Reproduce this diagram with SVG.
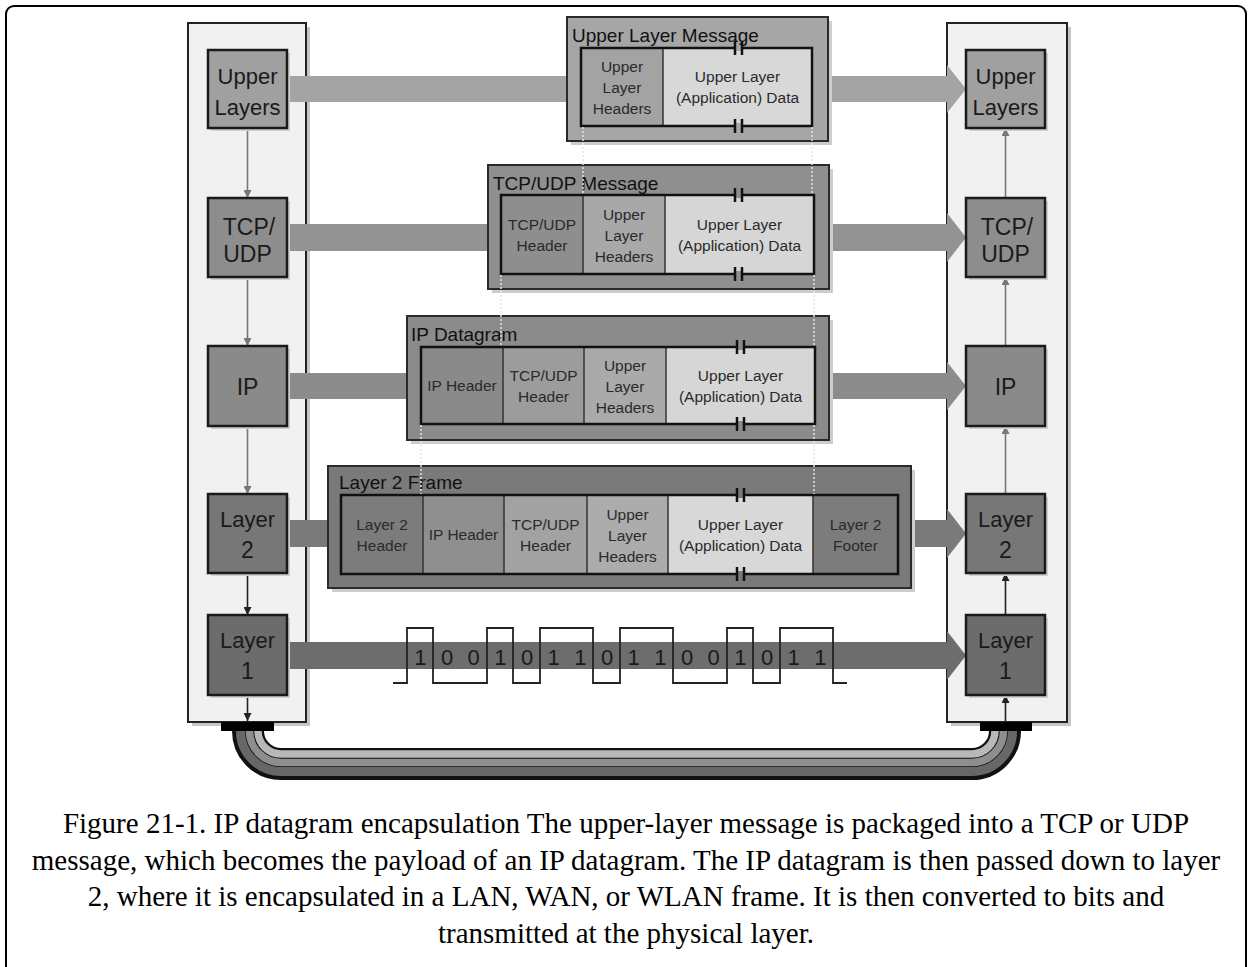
<svg xmlns="http://www.w3.org/2000/svg" width="1251" height="967" viewBox="0 0 1251 967">
<defs>
<style>
.panel{fill:#f1f1f1;stroke:#222;stroke-width:2}
.pshadow{fill:#c6c6c6}
.node{stroke:#1a1a1a;stroke-width:2.5}
.nshadow{fill:#cfcfcf}
.nl{font-family:"Liberation Sans",Arial,sans-serif;font-size:22px;fill:#1a1a1a;text-anchor:middle}
.nl2{font-family:"Liberation Sans",Arial,sans-serif;font-size:23px;fill:#1a1a1a;text-anchor:middle}
.frame{stroke:#2a2a2a;stroke-width:2}
.fshadow{fill:#cdcdcd}
.inner{fill:none;stroke:#111;stroke-width:2.5}
.div{stroke:#333;stroke-width:1.5}
.title{font-family:"Liberation Sans",Arial,sans-serif;font-size:19px;fill:#111}
.ct{font-family:"Liberation Sans",Arial,sans-serif;font-size:15.5px;fill:#2a2a2a;text-anchor:middle}
.brk{stroke:#111;stroke-width:2.5}
.dot{stroke:#e6e6e6;stroke-width:1.5;stroke-dasharray:2 2;fill:none}
.va{stroke:#777;stroke-width:1.6;fill:none}
.vad{stroke:#222;stroke-width:1.6;fill:none}
.bit{font-family:"Liberation Sans",Arial,sans-serif;font-size:22px;fill:#1a1a1a;text-anchor:middle}
.cap{font-family:"Liberation Serif","Times New Roman",serif;font-size:29px;fill:#000;text-anchor:middle}
</style>
<marker id="ag" viewBox="0 0 8 8" refX="8" refY="4" markerWidth="8" markerHeight="8" markerUnits="userSpaceOnUse" orient="auto"><path d="M0,0 L8,4 L0,8 z" fill="#777"/></marker>
<marker id="ad" viewBox="0 0 8 8" refX="8" refY="4" markerWidth="8" markerHeight="8" markerUnits="userSpaceOnUse" orient="auto"><path d="M0,0 L8,4 L0,8 z" fill="#222"/></marker>
</defs>
<rect x="6" y="6" width="1240" height="975" rx="8" fill="#fff" stroke="#000" stroke-width="2"/>

<g id="left-stack-panel">
<rect class="pshadow" x="192" y="27" width="118" height="699"/>
<rect class="panel" x="188" y="23" width="118" height="699"/>
</g>
<g id="right-stack-panel">
<rect class="pshadow" x="951" y="27" width="120" height="699"/>
<rect class="panel" x="947" y="23" width="120" height="699"/>
</g>

<g id="connectors">
<rect x="287" y="76" width="281" height="26" fill="#a4a4a4"/>
<path d="M829 76 H947 V65 L966 89 L947 113 V102 H829 Z" fill="#a4a4a4"/>
<rect x="287" y="224" width="202" height="27" fill="#939393"/>
<path d="M829 224 H947 V213 L966 237.5 L947 262 V251 H829 Z" fill="#939393"/>
<rect x="287" y="373" width="121" height="26" fill="#8c8c8c"/>
<path d="M829 373 H947 V362 L966 386 L947 410 V399 H829 Z" fill="#8c8c8c"/>
<rect x="287" y="520" width="42" height="27" fill="#7a7a7a"/>
<path d="M911 520 H947 V509 L966 533.5 L947 558 V547 H911 Z" fill="#7a7a7a"/>
<path d="M287 642 H947 V631 L966 655.5 L947 680 V669 H287 Z" fill="#6d6d6d"/>
<line class="va" x1="247.5" y1="128" x2="247.5" y2="198" marker-end="url(#ag)"/>
<line class="va" x1="247.5" y1="277" x2="247.5" y2="346" marker-end="url(#ag)"/>
<line class="va" x1="247.5" y1="426" x2="247.5" y2="494" marker-end="url(#ag)"/>
<line class="vad" x1="247.5" y1="573" x2="247.5" y2="615" marker-end="url(#ad)"/>
<line class="vad" x1="247.5" y1="695" x2="247.5" y2="721" marker-end="url(#ad)"/>
<line class="va" x1="1005.5" y1="198" x2="1005.5" y2="128" marker-end="url(#ag)"/>
<line class="va" x1="1005.5" y1="346" x2="1005.5" y2="277" marker-end="url(#ag)"/>
<line class="va" x1="1005.5" y1="494" x2="1005.5" y2="426" marker-end="url(#ag)"/>
<line class="vad" x1="1005.5" y1="615" x2="1005.5" y2="573" marker-end="url(#ad)"/>
<line class="vad" x1="1005.5" y1="722" x2="1005.5" y2="695" marker-end="url(#ad)"/>
<g fill="none">
<path d="M248 728 V731 A33 33 0 0 0 281 764 H972 A33 33 0 0 0 1005 731 V728" stroke="#111" stroke-width="32"/>
<path d="M258 728 V731 A23 23 0 0 0 281 754 H972 A23 23 0 0 0 995 731 V728" stroke="#b8b8b8" stroke-width="7.5"/>
<path d="M249.5 728 V731 A31.5 31.5 0 0 0 281 762.5 H972 A31.5 31.5 0 0 0 1003.5 731 V728" stroke="#8e8e8e" stroke-width="7.5"/>
<path d="M240.5 728 V731 A40.5 40.5 0 0 0 281 771.5 H972 A40.5 40.5 0 0 0 1012.5 731 V728" stroke="#676767" stroke-width="9"/>
</g>
<rect x="221" y="722" width="53" height="9" fill="#000"/>
<rect x="980" y="722" width="52" height="9" fill="#000"/>
</g>

<g id="node-upper-left">
<rect class="nshadow" x="211" y="53" width="79" height="78"/>
<rect class="node" x="208" y="50" width="79" height="78" fill="#a0a0a0"/>
<text class="nl" x="247.5" y="84">Upper</text>
<text class="nl" x="247.5" y="115">Layers</text>
</g>
<g id="node-tcp-left">
<rect class="nshadow" x="211" y="201" width="79" height="79"/>
<rect class="node" x="208" y="198" width="79" height="79" fill="#8d8d8d"/>
<text class="nl2" x="249" y="235">TCP/</text>
<text class="nl2" x="247.5" y="262">UDP</text>
</g>
<g id="node-ip-left">
<rect class="nshadow" x="211" y="349" width="79" height="80"/>
<rect class="node" x="208" y="346" width="79" height="80" fill="#8a8a8a"/>
<text class="nl2" x="247.5" y="395">IP</text>
</g>
<g id="node-l2-left">
<rect class="nshadow" x="211" y="497" width="79" height="79"/>
<rect class="node" x="208" y="494" width="79" height="79" fill="#777"/>
<text class="nl" x="247.5" y="527">Layer</text>
<text class="nl2" x="247.5" y="558">2</text>
</g>
<g id="node-l1-left">
<rect class="nshadow" x="211" y="618" width="79" height="80"/>
<rect class="node" x="208" y="615" width="79" height="80" fill="#6c6c6c"/>
<text class="nl" x="247.5" y="648">Layer</text>
<text class="nl2" x="247.5" y="679">1</text>
</g>

<g id="node-upper-right">
<rect class="nshadow" x="969" y="53" width="79" height="78"/>
<rect class="node" x="966" y="50" width="79" height="78" fill="#a0a0a0"/>
<text class="nl" x="1005.5" y="84">Upper</text>
<text class="nl" x="1005.5" y="115">Layers</text>
</g>
<g id="node-tcp-right">
<rect class="nshadow" x="969" y="201" width="79" height="79"/>
<rect class="node" x="966" y="198" width="79" height="79" fill="#8d8d8d"/>
<text class="nl2" x="1007" y="235">TCP/</text>
<text class="nl2" x="1005.5" y="262">UDP</text>
</g>
<g id="node-ip-right">
<rect class="nshadow" x="969" y="349" width="79" height="80"/>
<rect class="node" x="966" y="346" width="79" height="80" fill="#8a8a8a"/>
<text class="nl2" x="1005.5" y="395">IP</text>
</g>
<g id="node-l2-right">
<rect class="nshadow" x="969" y="497" width="79" height="79"/>
<rect class="node" x="966" y="494" width="79" height="79" fill="#777"/>
<text class="nl" x="1005.5" y="527">Layer</text>
<text class="nl2" x="1005.5" y="558">2</text>
</g>
<g id="node-l1-right">
<rect class="nshadow" x="969" y="618" width="79" height="80"/>
<rect class="node" x="966" y="615" width="79" height="80" fill="#6c6c6c"/>
<text class="nl" x="1005.5" y="648">Layer</text>
<text class="nl2" x="1005.5" y="679">1</text>
</g>

<g id="frame-upper-layer-message">
<rect class="fshadow" x="571" y="21" width="261" height="124"/>
<rect class="frame" x="567" y="17" width="261" height="124" fill="#a6a6a6"/>
<rect x="581" y="48" width="82" height="78" fill="#a3a3a3"/>
<rect x="663" y="48" width="149" height="78" fill="#d8d8d8"/>
<line class="div" x1="663" y1="48" x2="663" y2="126"/>
<rect class="inner" x="581" y="48" width="231" height="78"/>
<text class="title" x="572" y="42">Upper Layer Message</text>
<text class="ct" x="622" y="71.5">Upper</text>
<text class="ct" x="622" y="92.5">Layer</text>
<text class="ct" x="622" y="113.5">Headers</text>
<text class="ct" x="737.5" y="82">Upper Layer</text>
<text class="ct" x="737.5" y="103">(Application) Data</text>
</g>
<g id="frame-tcp-udp-message">
<rect class="fshadow" x="492" y="169" width="341" height="124"/>
<rect class="frame" x="488" y="165" width="341" height="124" fill="#8f8f8f"/>
<rect x="501" y="195" width="82" height="79" fill="#8e8e8e"/>
<rect x="583" y="195" width="82" height="79" fill="#a8a8a8"/>
<rect x="665" y="195" width="149" height="79" fill="#d6d6d6"/>
<line class="div" x1="583" y1="195" x2="583" y2="274"/>
<line class="div" x1="665" y1="195" x2="665" y2="274"/>
<rect class="inner" x="501" y="195" width="313" height="79"/>
<text class="title" x="493" y="190">TCP/UDP Message</text>
<text class="ct" x="542" y="229.5">TCP/UDP</text>
<text class="ct" x="542" y="250.5">Header</text>
<text class="ct" x="624" y="219.5">Upper</text>
<text class="ct" x="624" y="240.5">Layer</text>
<text class="ct" x="624" y="261.5">Headers</text>
<text class="ct" x="739.5" y="229.5">Upper Layer</text>
<text class="ct" x="739.5" y="250.5">(Application) Data</text>
</g>
<g id="frame-ip-datagram">
<rect class="fshadow" x="411" y="320" width="422" height="124"/>
<rect class="frame" x="407" y="316" width="422" height="124" fill="#8b8b8b"/>
<rect x="421" y="347" width="82" height="77" fill="#8a8a8a"/>
<rect x="503" y="347" width="81" height="77" fill="#9c9c9c"/>
<rect x="584" y="347" width="82" height="77" fill="#aaaaaa"/>
<rect x="666" y="347" width="149" height="77" fill="#d6d6d6"/>
<line class="div" x1="503" y1="347" x2="503" y2="424"/>
<line class="div" x1="584" y1="347" x2="584" y2="424"/>
<line class="div" x1="666" y1="347" x2="666" y2="424"/>
<rect class="inner" x="421" y="347" width="394" height="77"/>
<text class="title" x="411" y="341">IP Datagram</text>
<text class="ct" x="462" y="391">IP Header</text>
<text class="ct" x="543.5" y="380.5">TCP/UDP</text>
<text class="ct" x="543.5" y="401.5">Header</text>
<text class="ct" x="625" y="370.5">Upper</text>
<text class="ct" x="625" y="391.5">Layer</text>
<text class="ct" x="625" y="412.5">Headers</text>
<text class="ct" x="740.5" y="380.5">Upper Layer</text>
<text class="ct" x="740.5" y="401.5">(Application) Data</text>
</g>
<g id="frame-layer2">
<rect class="fshadow" x="332" y="470" width="583" height="122"/>
<rect class="frame" x="328" y="466" width="583" height="122" fill="#7a7a7a"/>
<rect x="341" y="495" width="82" height="79" fill="#7c7c7c"/>
<rect x="423" y="495" width="81" height="79" fill="#8f8f8f"/>
<rect x="504" y="495" width="83" height="79" fill="#a2a2a2"/>
<rect x="587" y="495" width="81" height="79" fill="#acacac"/>
<rect x="668" y="495" width="145" height="79" fill="#d8d8d8"/>
<rect x="813" y="495" width="85" height="79" fill="#7c7c7c"/>
<line class="div" x1="423" y1="495" x2="423" y2="574"/>
<line class="div" x1="504" y1="495" x2="504" y2="574"/>
<line class="div" x1="587" y1="495" x2="587" y2="574"/>
<line class="div" x1="668" y1="495" x2="668" y2="574"/>
<line class="div" x1="813" y1="495" x2="813" y2="574"/>
<rect class="inner" x="341" y="495" width="557" height="79"/>
<text class="title" x="339" y="489">Layer 2 Frame</text>
<text class="ct" x="382" y="529.5">Layer 2</text>
<text class="ct" x="382" y="550.5">Header</text>
<text class="ct" x="463.5" y="540">IP Header</text>
<text class="ct" x="545.5" y="529.5">TCP/UDP</text>
<text class="ct" x="545.5" y="550.5">Header</text>
<text class="ct" x="627.5" y="519.5">Upper</text>
<text class="ct" x="627.5" y="540.5">Layer</text>
<text class="ct" x="627.5" y="561.5">Headers</text>
<text class="ct" x="740.5" y="529.5">Upper Layer</text>
<text class="ct" x="740.5" y="550.5">(Application) Data</text>
<text class="ct" x="855.5" y="529.5">Layer 2</text>
<text class="ct" x="855.5" y="550.5">Footer</text>
</g>

<g id="break-marks">
<rect x="735" y="45" width="7" height="6" fill="#a6a6a6"/>
<line class="brk" x1="735" y1="41" x2="735" y2="55"/><line class="brk" x1="742" y1="41" x2="742" y2="55"/>
<rect x="735" y="123" width="7" height="6" fill="#a6a6a6"/>
<line class="brk" x1="735" y1="119" x2="735" y2="133"/><line class="brk" x1="742" y1="119" x2="742" y2="133"/>
<rect x="735" y="192" width="7" height="6" fill="#8f8f8f"/>
<line class="brk" x1="735" y1="188" x2="735" y2="202"/><line class="brk" x1="742" y1="188" x2="742" y2="202"/>
<rect x="735" y="271" width="7" height="6" fill="#8f8f8f"/>
<line class="brk" x1="735" y1="267" x2="735" y2="281"/><line class="brk" x1="742" y1="267" x2="742" y2="281"/>
<rect x="737" y="344" width="7" height="6" fill="#8b8b8b"/>
<line class="brk" x1="737" y1="340" x2="737" y2="354"/><line class="brk" x1="744" y1="340" x2="744" y2="354"/>
<rect x="737" y="421" width="7" height="6" fill="#8b8b8b"/>
<line class="brk" x1="737" y1="417" x2="737" y2="431"/><line class="brk" x1="744" y1="417" x2="744" y2="431"/>
<rect x="737" y="492" width="7" height="6" fill="#7a7a7a"/>
<line class="brk" x1="737" y1="488" x2="737" y2="502"/><line class="brk" x1="744" y1="488" x2="744" y2="502"/>
<rect x="737" y="571" width="7" height="6" fill="#7a7a7a"/>
<line class="brk" x1="737" y1="567" x2="737" y2="581"/><line class="brk" x1="744" y1="567" x2="744" y2="581"/>
</g>

<g id="projection-lines">
<line class="dot" x1="583" y1="127" x2="583" y2="194"/>
<line class="dot" x1="812" y1="127" x2="812" y2="194"/>
<line class="dot" x1="501" y1="275" x2="501" y2="346"/>
<line class="dot" x1="814" y1="275" x2="814" y2="346"/>
<line class="dot" x1="421" y1="425" x2="421" y2="494"/>
<line class="dot" x1="814" y1="425" x2="814" y2="494"/>
</g>

<g id="bitstream">
<path d="M393 683 H407 V628 H433 V683 H487 V628 H513 V683 H540 V628 H593 V683 H620 V628 H673 V683 H727 V628 H753 V683 H780 V628 H833 V683 H847" fill="none" stroke="#222" stroke-width="1.8"/>
<text class="bit" x="420.3" y="665">1</text>
<text class="bit" x="447" y="665">0</text>
<text class="bit" x="473.7" y="665">0</text>
<text class="bit" x="500.3" y="665">1</text>
<text class="bit" x="527" y="665">0</text>
<text class="bit" x="553.7" y="665">1</text>
<text class="bit" x="580.3" y="665">1</text>
<text class="bit" x="607" y="665">0</text>
<text class="bit" x="633.7" y="665">1</text>
<text class="bit" x="660.3" y="665">1</text>
<text class="bit" x="687" y="665">0</text>
<text class="bit" x="713.7" y="665">0</text>
<text class="bit" x="740.3" y="665">1</text>
<text class="bit" x="767" y="665">0</text>
<text class="bit" x="793.7" y="665">1</text>
<text class="bit" x="820.3" y="665">1</text>
</g>

<g id="caption">
<text class="cap" x="626" y="833">Figure 21-1. IP datagram encapsulation The upper-layer message is packaged into a TCP or UDP</text>
<text class="cap" x="626" y="870">message, which becomes the payload of an IP datagram. The IP datagram is then passed down to layer</text>
<text class="cap" x="626" y="906">2, where it is encapsulated in a LAN, WAN, or WLAN frame. It is then converted to bits and</text>
<text class="cap" x="626" y="943">transmitted at the physical layer.</text>
</g>
</svg>
